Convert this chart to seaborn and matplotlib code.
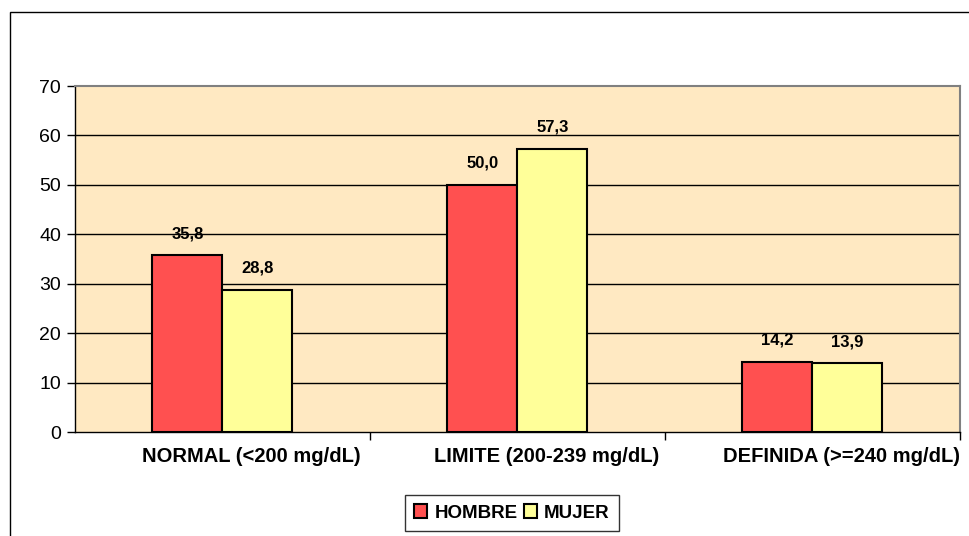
import numpy as np
import matplotlib
matplotlib.use("Agg")
import matplotlib.pyplot as plt
import matplotlib.transforms as mtransforms
import seaborn as sns
import pandas as pd
from matplotlib.patches import Rectangle, Patch

categorias = ["NORMAL (<200 mg/dL)", "LIMITE (200-239 mg/dL)", "DEFINIDA (>=240 mg/dL)"]
hombre = [35.8, 50.0, 14.2]
mujer = [28.8, 57.3, 13.9]
series = ["HOMBRE", "MUJER"]
colores = ["#FF5050", "#FFFF99"]

df = pd.DataFrame({
    "categoria": categorias * 2,
    "valor": hombre + mujer,
    "sexo": ["HOMBRE"] * 3 + ["MUJER"] * 3,
})

sns.set_style("white")
plt.rcParams['font.family'] = ['Liberation Sans', 'DejaVu Sans']
plt.rcParams['text.color'] = 'black'
plt.rcParams['xtick.color'] = 'black'
plt.rcParams['ytick.color'] = 'black'
plt.rcParams['xtick.labelcolor'] = 'black'
plt.rcParams['ytick.labelcolor'] = 'black'

fig = plt.figure(figsize=(9.7, 5.36), dpi=100)
ax = fig.add_axes([0.0773, 0.194, 0.912, 0.6455])

# outer chart border
fig.patches.append(Rectangle((10 / 970, -0.1), 2, 1 - 12 / 536 + 0.1,
                             transform=fig.transFigure, fill=False,
                             edgecolor="black", linewidth=1, clip_on=False))

ax.set_facecolor("#FFE9C2")
sns.barplot(data=df, x="categoria", y="valor", hue="sexo", palette=colores,
            width=0.475, edgecolor="black", linewidth=1.5, saturation=1,
            legend=False, ax=ax)

ax.set_ylim(0, 70)
ax.set_xlim(-0.5, 2.5)
ax.set_yticks(range(0, 71, 10))
ax.tick_params(axis="y", labelsize=14, length=6, width=1, color="black", direction="out", pad=4)
ax.tick_params(axis="x", length=0, labelsize=14.5, pad=11)
ax.yaxis.set_tick_params(left=True)
ax.set_xticks(range(3))
ax.set_xticklabels(categorias, fontweight="bold")
# labels sit a bit to the right of the category centre
shift = mtransforms.ScaledTranslation(0.29, 0, fig.dpi_scale_trans)
for lab in ax.get_xticklabels():
    lab.set_transform(lab.get_transform() + shift)
# minor ticks at category boundaries
ax.set_xticks([0.5, 1.5, 2.5], minor=True)
ax.tick_params(axis="x", which="minor", length=6, width=1, color="black", bottom=True)
ax.set_xlabel("")
ax.set_ylabel("")

for y in range(10, 70, 10):
    ax.axhline(y, color="black", linewidth=1, zorder=0.5)

for s in ["left", "bottom"]:
    ax.spines[s].set_color("black")
    ax.spines[s].set_linewidth(1)
for s in ["top", "right"]:
    ax.spines[s].set_color("#808080")
    ax.spines[s].set_linewidth(1.5)

for cont in ax.containers:
    ax.bar_label(cont, labels=[f"{v:.1f}".replace(".", ",") for v in cont.datavalues],
                 padding=10, fontsize=12, fontweight="bold")

handles = [Patch(facecolor=c, edgecolor="black", linewidth=1.5) for c in colores]
leg = fig.legend(handles, series, loc="center", bbox_to_anchor=(512 / 970, 1 - 513 / 536),
                 ncol=2, frameon=True, fancybox=False, edgecolor="black",
                 prop={"weight": "bold", "size": 13.5}, handlelength=0.7, handleheight=0.7,
                 handletextpad=0.4, columnspacing=0.3, borderpad=0.5)
leg.get_frame().set_linewidth(1)

fig.savefig("out.png", dpi=100)
